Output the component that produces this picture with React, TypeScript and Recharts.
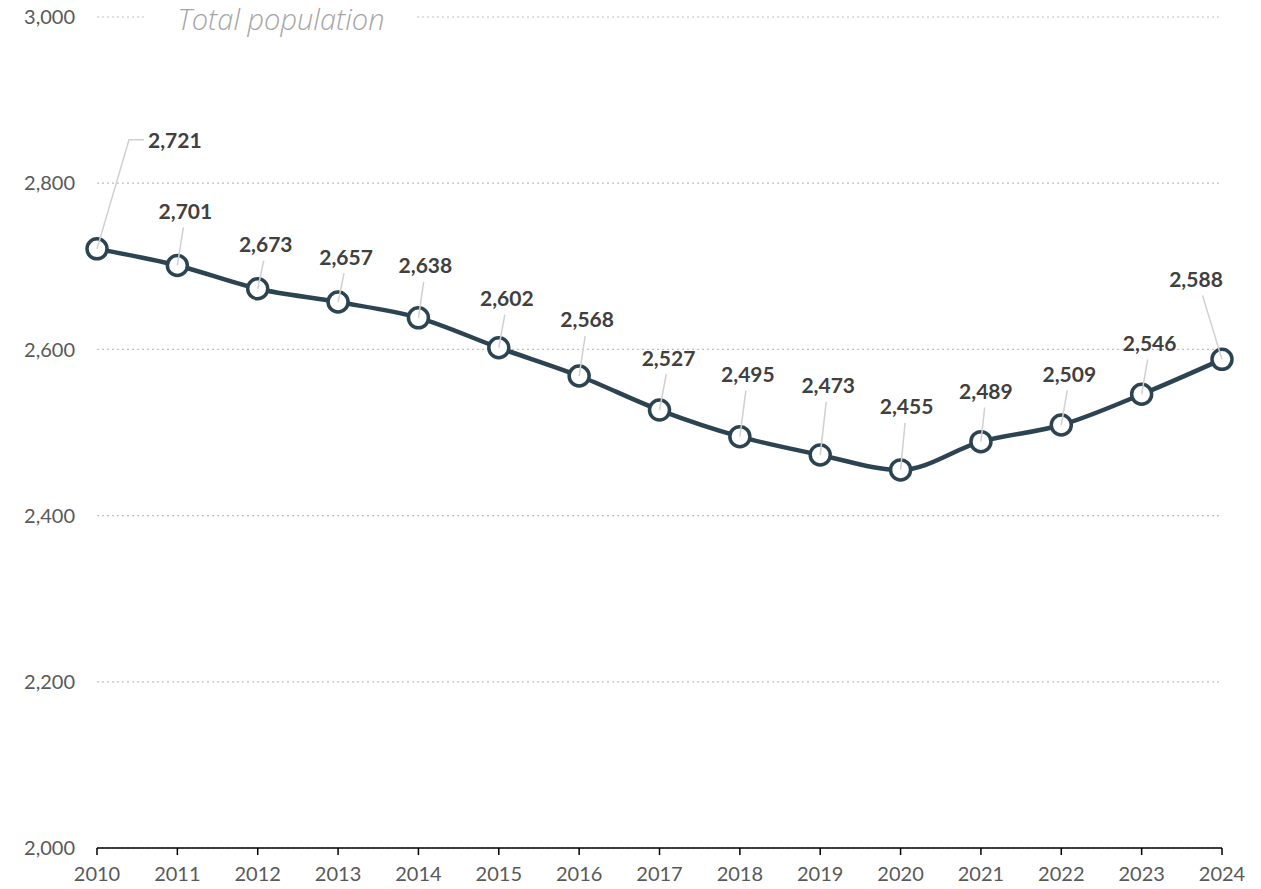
import React from 'react';
import { LineChart, Line, XAxis, YAxis, CartesianGrid, LabelList } from 'recharts';

const years = [2010, 2011, 2012, 2013, 2014, 2015, 2016, 2017, 2018, 2019, 2020, 2021, 2022, 2023, 2024];
const population = [2721, 2701, 2673, 2657, 2638, 2602, 2568, 2527, 2495, 2473, 2455, 2489, 2509, 2546, 2588];
const yTicks = [2000, 2200, 2400, 2600, 2800, 3000];
const chartTitle = 'Total population';

// label placement relative to each point (layout only)
const labelDx = [78, 8, 8, 8, 7, 8, 8, 9, 8, 8, 6, 5, 8, 8, -26];
const labelDy = [-109, -55, -45, -46, -53, -50, -57, -53, -63, -70, -64, -51, -52, -52, -81];

const data = years.map((year, i) => ({ year, population: population[i] }));

const FONT = 'Lato, "Open Sans", sans-serif';
const TITLE_FONT = '"Open Sans", Lato, sans-serif';
const LINE_COLOR = '#2C4352';
const fmt = (v: number) => v.toLocaleString('en-US');

const PointLabel = (props: any) => {
  const { x, y, value, index } = props;
  if (x == null || y == null) return null;
  const lx = x + labelDx[index];
  const ly = y + labelDy[index];
  if (index === 0) {
    const left = lx - 27;
    return (
      <g>
        <polyline
          points={`${x},${y} ${left - 19},${ly} ${left - 4},${ly}`}
          fill="none"
          stroke="#D0D0D0"
          strokeWidth={1.5}
        />
        <text x={left} y={ly} textAnchor="start" dominantBaseline="central" fontFamily={FONT} fontWeight={700} fontSize={21} fill="#404040">
          {fmt(value)}
        </text>
      </g>
    );
  }
  const ex = x + labelDx[index] * 0.75;
  const ey = ly + 17;
  return (
    <g>
      <line x1={x} y1={y} x2={ex} y2={ey} stroke="#D0D0D0" strokeWidth={1.5} />
      <text x={lx} y={ly} textAnchor="middle" dominantBaseline="central" fontFamily={FONT} fontWeight={700} fontSize={21} fill="#404040">
        {fmt(value)}
      </text>
    </g>
  );
};

export default function App() {
  return (
    <div style={{ position: 'absolute', left: 0, top: 0, width: 1261, height: 889, background: '#fff', fontFamily: FONT }}>
      <LineChart width={1261} height={889} data={data} margin={{ top: 17, right: 39, bottom: 0, left: 0 }}>
        <CartesianGrid vertical={false} stroke="#BFBFBF" strokeDasharray="2 3" strokeWidth={1.2} />
        <XAxis
          dataKey="year"
          type="number"
          domain={[2010, 2024]}
          ticks={years}
          tickFormatter={(v: number) => String(v)}
          height={41}
          axisLine={{ stroke: '#000', strokeWidth: 1.5 }}
          tickLine={{ stroke: '#000', strokeWidth: 1.5 }}
          tickSize={7}
          tickMargin={12}
          tick={{ fill: '#595959', fontSize: 20, fontFamily: FONT }}
          interval={0}
        />
        <YAxis
          domain={[2000, 3000]}
          ticks={yTicks}
          tickFormatter={fmt}
          width={97}
          axisLine={false}
          tickLine={false}
          tickSize={0}
          tickMargin={22}
          tick={{ fill: '#595959', fontSize: 20, fontFamily: FONT }}
          interval={0}
        />
        <Line
          type="monotone"
          dataKey="population"
          stroke={LINE_COLOR}
          strokeWidth={4.5}
          dot={{ r: 10, fill: '#fff', stroke: LINE_COLOR, strokeWidth: 3.5 }}
          activeDot={false}
          isAnimationActive={false}
        >
          <LabelList dataKey="population" content={PointLabel} />
        </Line>
      </LineChart>
      <div
        style={{
          position: 'absolute',
          left: 147,
          top: 0,
          width: 268,
          height: 38,
          background: '#fff',
          textAlign: 'center',
          fontStyle: 'italic',
          fontSize: 29,
          fontWeight: 300,
          lineHeight: '38px',
          color: '#A6A6A6',
          fontFamily: TITLE_FONT,
          whiteSpace: 'nowrap',
        }}
      >
        {chartTitle}
      </div>
    </div>
  );
}
